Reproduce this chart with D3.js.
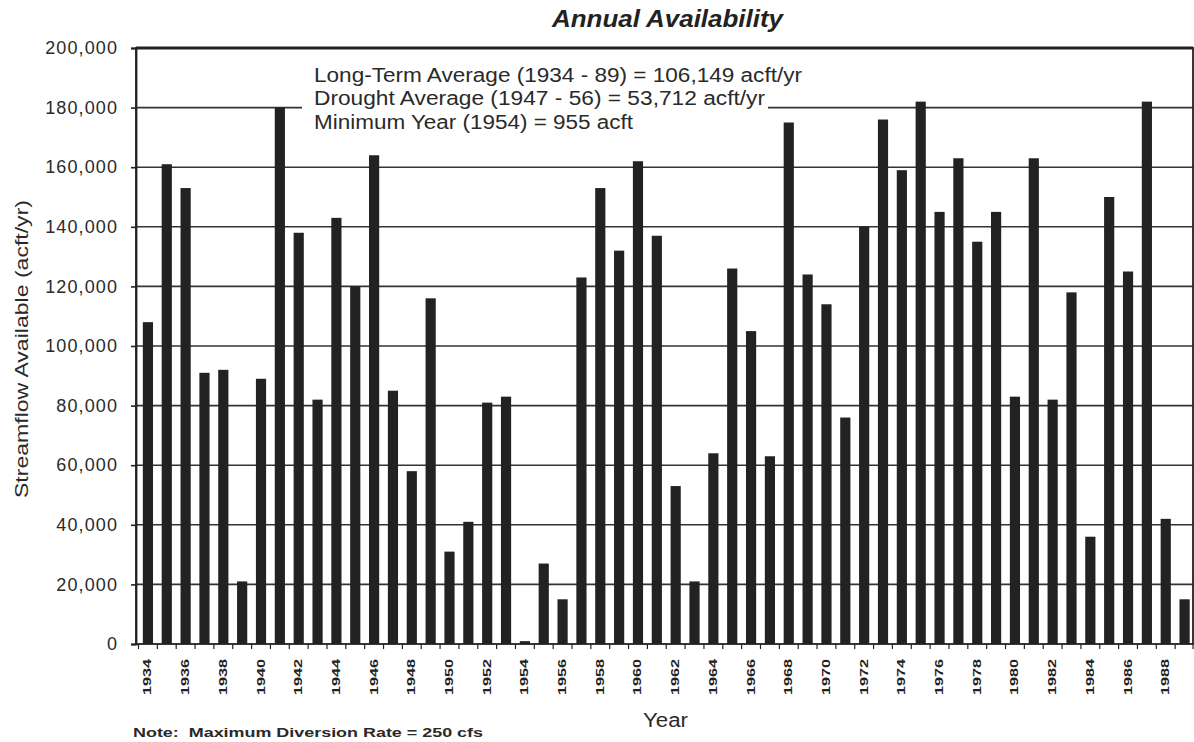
<!DOCTYPE html>
<html><head><meta charset="utf-8">
<script src="https://cdn.jsdelivr.net/npm/d3@7"></script>
<style>
body{margin:0;background:#fff;}
svg{display:block;font-family:"Liberation Sans",Arial,sans-serif;}
</style></head>
<body><svg id="c" width="1194" height="742"></svg>
<script>
const years = d3.range(1934, 1990);
const values = [108000,161000,153000,91000,92000,21000,89000,180000,138000,82000,
  143000,120000,164000,85000,58000,116000,31000,41000,81000,83000,
  955,27000,15000,123000,153000,132000,162000,137000,53000,21000,
  64000,126000,105000,63000,175000,124000,114000,76000,140000,176000,
  159000,182000,145000,163000,135000,145000,83000,163000,82000,118000,
  36000,150000,125000,182000,42000,15000];
const yTicks = [0,20000,40000,60000,80000,100000,120000,140000,160000,180000,200000];
const notes = ["Long-Term Average (1934 - 89) = 106,149 acft/yr",
  "Drought Average (1947 - 56) = 53,712 acft/yr",
  "Minimum Year (1954) = 955 acft"];
const noteLens = [488, 451, 319];
const title = "Annual Availability";

const svg = d3.select("#c");
const L = 136, R = 1193, T = 48, B = 644;
const x = d3.scaleBand().domain(years).range([138.5, 1194]).paddingInner(0.46).paddingOuter(0.23);
const y = d3.scaleLinear().domain([0, 200000]).range([B, T]);
const fmt = d3.format(",");

// gridlines
svg.append("g").selectAll("line").data(yTicks.slice(1, -1)).join("line")
  .attr("x1", L).attr("x2", R).attr("y1", d => y(d)).attr("y2", d => y(d))
  .attr("stroke", "#333").attr("stroke-width", 1.6);

// bars
svg.append("g").selectAll("rect").data(years).join("rect")
  .attr("x", d => x(d)).attr("width", x.bandwidth())
  .attr("y", (d, i) => y(values[i])).attr("height", (d, i) => B - y(values[i]))
  .attr("fill", "#222");

// annotation text with white backing
const ng = svg.append("g");
notes.forEach((t, i) => {
  const tx = ng.append("text").attr("x", 314).attr("y", 82 + i * 23.3)
    .attr("font-size", 20).attr("fill", "#2a2a2a")
    .attr("textLength", noteLens[i]).attr("lengthAdjust", "spacingAndGlyphs").text(t);
  const bb = tx.node().getBBox();
  ng.insert("rect", "text").attr("x", 302).attr("y", bb.y + 2)
    .attr("width", 314 + noteLens[i] - 302 + 3).attr("height", bb.height - 2).attr("fill", "#fff");
});

// frame
svg.append("rect").attr("x", L).attr("y", T).attr("width", R - L).attr("height", B - T)
  .attr("fill", "none").attr("stroke", "#222").attr("stroke-width", 1.8);
svg.append("line").attr("x1", L).attr("x2", R).attr("y1", T).attr("y2", T)
  .attr("stroke", "#222").attr("stroke-width", 3);

// y axis
const ya = svg.append("g").attr("transform", `translate(${L},0)`)
  .call(d3.axisLeft(y).tickValues(yTicks).tickFormat(fmt).tickSize(5).tickPadding(13));
ya.select(".domain").attr("stroke", "#222").attr("stroke-width", 1.8);
ya.selectAll(".tick line").attr("stroke", "#222").attr("stroke-width", 1.6);
ya.selectAll("text").attr("font-size", 18).attr("fill", "#2a2a2a")
  .attr("letter-spacing", "1.1px")
  .attr("font-family", "'Liberation Sans',Arial,sans-serif");

// x axis: boundary ticks
const bounds = years.map(d => x(d) - x.step() * x.paddingInner() / 2).concat([R]);
svg.append("g").selectAll("line").data(bounds).join("line")
  .attr("x1", d => d).attr("x2", d => d).attr("y1", B).attr("y2", B + 5)
  .attr("stroke", "#222").attr("stroke-width", 1.2);
svg.append("g").selectAll("text").data(years.filter(d => d % 2 === 0)).join("text")
  .attr("transform", d => `translate(${x(d) + x.bandwidth() / 2 + 3.5},${659}) rotate(-90)`)
  .attr("text-anchor", "end").attr("font-size", 11).attr("font-weight", "bold")
  .attr("fill", "#222").attr("textLength", 36).attr("lengthAdjust", "spacingAndGlyphs")
  .text(d => d);

// titles
svg.append("text").attr("x", 552).attr("y", 27)
  .attr("font-size", 23).attr("font-weight", "bold").attr("font-style", "italic")
  .attr("fill", "#222").attr("textLength", 231).attr("lengthAdjust", "spacingAndGlyphs").text(title);
svg.append("text").attr("transform", "translate(28,349) rotate(-90)").attr("text-anchor", "middle")
  .attr("font-size", 19).attr("fill", "#2a2a2a")
  .attr("textLength", 298).attr("lengthAdjust", "spacingAndGlyphs")
  .text("Streamflow Available (acft/yr)");
svg.append("text").attr("x", 643).attr("y", 727)
  .attr("font-size", 20).attr("fill", "#2a2a2a")
  .attr("textLength", 45).attr("lengthAdjust", "spacingAndGlyphs").text("Year");
svg.append("text").attr("x", 133).attr("y", 737)
  .attr("font-size", 13.5).attr("font-weight", "bold").attr("fill", "#2a2a2a")
  .style("white-space", "pre")
  .attr("textLength", 350).attr("lengthAdjust", "spacingAndGlyphs")
  .text("Note:  Maximum Diversion Rate = 250 cfs");
</script></body></html>
